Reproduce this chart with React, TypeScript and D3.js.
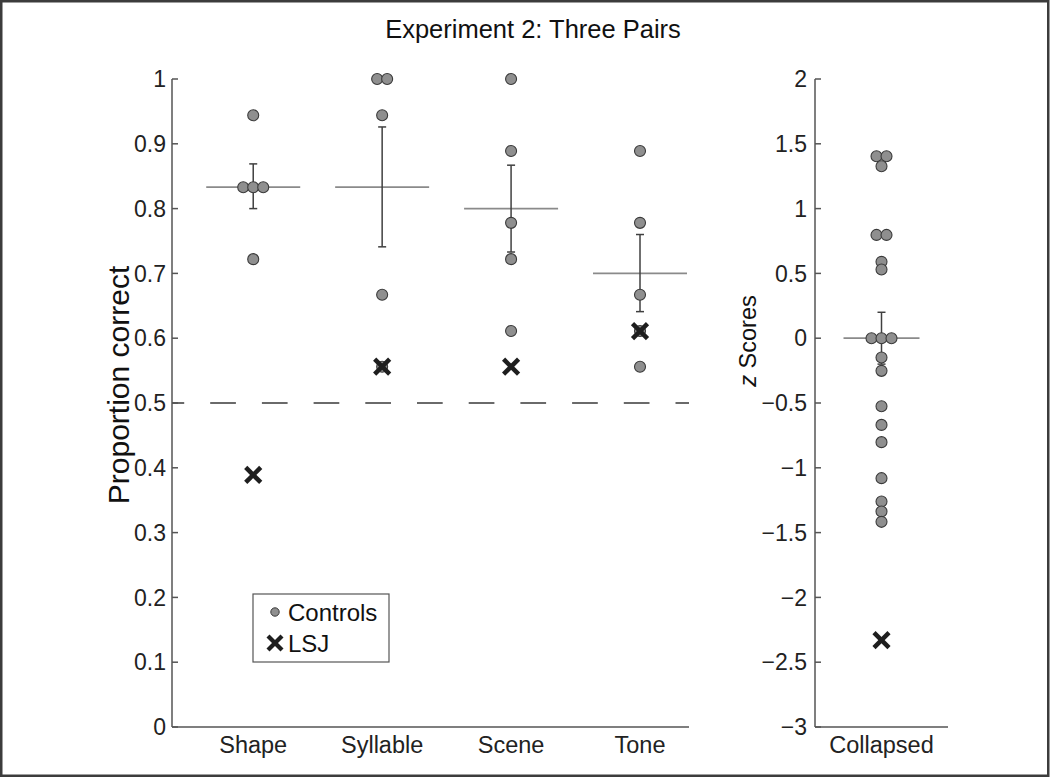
import React from "react";
import * as d3 from "d3";

const categories = ["Shape", "Syllable", "Scene", "Tone"];
const controlValues: number[][] = [
  [0.944, 0.833, 0.833, 0.833, 0.722],
  [1.0, 1.0, 0.944, 0.667, 0.556],
  [1.0, 0.889, 0.778, 0.722, 0.611],
  [0.889, 0.778, 0.667, 0.611, 0.556],
];
const means = [0.833, 0.833, 0.8, 0.7];
const errLow = [0.8, 0.741, 0.733, 0.641];
const errHigh = [0.869, 0.926, 0.867, 0.76];
const lsjValues = [0.389, 0.556, 0.556, 0.611];
const chanceLevel = 0.5;
const leftTicks = [0, 0.1, 0.2, 0.3, 0.4, 0.5, 0.6, 0.7, 0.8, 0.9, 1];

const collapsedZ = [1.404, 1.404, 1.327, 0.797, 0.797, 0.589, 0.53, 0, 0, 0, -0.149, -0.252, -0.525, -0.669, -0.802, -1.08, -1.26, -1.337, -1.417];
const collapsedMean = 0;
const collapsedErr = [-0.2, 0.2];
const lsjZ = -2.33;
const rightTicks = [2, 1.5, 1, 0.5, 0, -0.5, -1, -1.5, -2, -2.5, -3];

const FONT = "'Liberation Sans', Arial, Helvetica, sans-serif";
const axisColor = "#555";
const dotFill = "#8f8f8f";
const dotStroke = "#3a3a3a";

function spread(values: number[], gap: number) {
  const counts = new Map<number, number>();
  values.forEach((v) => counts.set(v, (counts.get(v) || 0) + 1));
  const seen = new Map<number, number>();
  return values.map((v) => {
    const n = counts.get(v)!;
    const i = seen.get(v) || 0;
    seen.set(v, i + 1);
    return (i - (n - 1) / 2) * gap;
  });
}

function XMark({ x, y, s = 7.5, w = 4.5 }: { x: number; y: number; s?: number; w?: number }) {
  return (
    <g stroke="#1e1e1e" strokeWidth={w} strokeLinecap="butt">
      <line x1={x - s} y1={y - s} x2={x + s} y2={y + s} />
      <line x1={x - s} y1={y + s} x2={x + s} y2={y - s} />
    </g>
  );
}

function fmt(v: number) {
  const s = String(v);
  return v < 0 ? "\u2212" + s.slice(1) : s;
}

export default function App() {
  const top = 79;
  const bottom = 727;
  const yL = d3.scaleLinear().domain([0, 1]).range([bottom, top]);
  const xL = d3.scaleLinear().domain([0.37, 4.38]).range([172, 689]);
  const yR = d3.scaleLinear().domain([-3, 2]).range([bottom, top]);
  const xR = d3.scaleLinear().domain([0.5, 1.5]).range([815, 948]);

  return (
    <svg width={1050} height={778} style={{ position: "absolute", left: 0, top: 0 }} fontFamily={FONT}>
      <rect x={0} y={0} width={1050} height={778} fill="#fff" />
      <rect x={1.25} y={1.25} width={1047} height={774.5} fill="none" stroke="#3c3c3c" strokeWidth={2.5} />

      <text x={533} y={38} textAnchor="middle" fontSize={25.5} fill="#111">Experiment 2: Three Pairs</text>

      {/* Left panel */}
      <line x1={xL(0.37)} x2={xL(4.38)} y1={yL(chanceLevel)} y2={yL(chanceLevel)} stroke="#6a6a6a" strokeWidth={2} strokeDasharray="25.7 26" strokeDashoffset={13.5} />
      <line x1={172} y1={top} x2={172} y2={bottom} stroke={axisColor} strokeWidth={1.5} />
      <line x1={172} y1={bottom} x2={689} y2={bottom} stroke={axisColor} strokeWidth={1.5} />
      {leftTicks.map((t) => (
        <g key={t}>
          <line x1={172} x2={178} y1={yL(t)} y2={yL(t)} stroke={axisColor} strokeWidth={1.5} />
          <text x={166} y={yL(t)} dy="0.36em" textAnchor="end" fontSize={23} fill="#222">{t}</text>
        </g>
      ))}
      {categories.map((c, i) => (
        <text key={c} x={xL(i + 1)} y={753} textAnchor="middle" fontSize={23.5} fill="#222">{c}</text>
      ))}
      <text transform={`translate(129,385) rotate(-90)`} textAnchor="middle" fontSize={30} fill="#111">Proportion correct</text>

      {categories.map((c, i) => {
        const cx = xL(i + 1);
        const offs = spread(controlValues[i], 10);
        return (
          <g key={c}>
            <line x1={cx - 47} x2={cx + 47} y1={yL(means[i])} y2={yL(means[i])} stroke="#8a8a8a" strokeWidth={1.8} />
            <line x1={cx} x2={cx} y1={yL(errLow[i])} y2={yL(errHigh[i])} stroke="#404040" strokeWidth={1.5} />
            <line x1={cx - 4} x2={cx + 4} y1={yL(errLow[i])} y2={yL(errLow[i])} stroke="#404040" strokeWidth={1.5} />
            <line x1={cx - 4} x2={cx + 4} y1={yL(errHigh[i])} y2={yL(errHigh[i])} stroke="#404040" strokeWidth={1.5} />
            {controlValues[i].map((v, j) => (
              <circle key={j} cx={cx + offs[j]} cy={yL(v)} r={5.5} fill={dotFill} stroke={dotStroke} strokeWidth={1.1} />
            ))}
            <XMark x={cx} y={yL(lsjValues[i])} />
          </g>
        );
      })}

      {/* Legend */}
      <rect x={253} y={594} width={136} height={68} fill="#fff" stroke="#555" strokeWidth={1.2} />
      <circle cx={275} cy={612} r={4.2} fill={dotFill} stroke={dotStroke} strokeWidth={1} />
      <text x={288} y={612} dy="0.36em" fontSize={24} fill="#111">Controls</text>
      <XMark x={275} y={643} s={7} w={4.2} />
      <text x={288} y={643} dy="0.36em" fontSize={24} fill="#111">LSJ</text>

      {/* Right panel */}
      <line x1={815} y1={top} x2={815} y2={bottom} stroke={axisColor} strokeWidth={1.5} />
      <line x1={815} y1={bottom} x2={948} y2={bottom} stroke={axisColor} strokeWidth={1.5} />
      {rightTicks.map((t) => (
        <g key={t}>
          <line x1={815} x2={821} y1={yR(t)} y2={yR(t)} stroke={axisColor} strokeWidth={1.5} />
          <text x={807} y={yR(t)} dy="0.36em" textAnchor="end" fontSize={23} fill="#222">{fmt(t)}</text>
        </g>
      ))}
      <text x={xR(1)} y={753} textAnchor="middle" fontSize={23.5} fill="#222">Collapsed</text>
      <text transform={`translate(756,341) rotate(-90)`} textAnchor="middle" fontSize={23.5} fill="#111">
        <tspan fontStyle="italic">z</tspan> Scores
      </text>
      {(() => {
        const cx = xR(1);
        const offs = spread(collapsedZ, 10);
        return (
          <g>
            <line x1={cx - 38} x2={cx + 38} y1={yR(collapsedMean)} y2={yR(collapsedMean)} stroke="#8a8a8a" strokeWidth={1.8} />
            <line x1={cx} x2={cx} y1={yR(collapsedErr[0])} y2={yR(collapsedErr[1])} stroke="#404040" strokeWidth={1.5} />
            <line x1={cx - 4} x2={cx + 4} y1={yR(collapsedErr[0])} y2={yR(collapsedErr[0])} stroke="#404040" strokeWidth={1.5} />
            <line x1={cx - 4} x2={cx + 4} y1={yR(collapsedErr[1])} y2={yR(collapsedErr[1])} stroke="#404040" strokeWidth={1.5} />
            {collapsedZ.map((v, j) => (
              <circle key={j} cx={cx + offs[j]} cy={yR(v)} r={5.5} fill={dotFill} stroke={dotStroke} strokeWidth={1.1} />
            ))}
            <XMark x={cx} y={yR(lsjZ)} />
          </g>
        );
      })()}
    </svg>
  );
}
